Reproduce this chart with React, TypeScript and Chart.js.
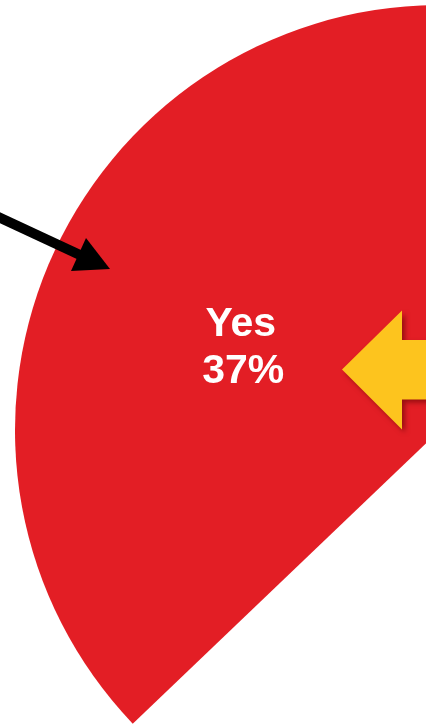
import React, { useEffect, useRef } from "react";
import { Chart, registerables } from "chart.js";

Chart.register(...registerables);

const categories = ["No", "Yes"];
const values = [63, 37];
const sliceColors = ["#FFFFFF", "#E31E25"];
const shownLabels = [false, true];

export default function App() {
  const ref = useRef<HTMLCanvasElement | null>(null);

  useEffect(() => {
    const canvas = ref.current;
    if (!canvas) return;

    const annotate = {
      id: "annotate",
      afterDraw(chart: any) {
        const ctx = chart.ctx;
        const meta = chart.getDatasetMeta(0);
        const total = values.reduce((a, b) => a + b, 0);
        // slice labels
        ctx.save();
        ctx.fillStyle = "#FFFFFF";
        ctx.font = "bold 41px 'Liberation Sans', Arial, sans-serif";
        ctx.textAlign = "center";
        ctx.textBaseline = "alphabetic";
        meta.data.forEach((arc: any, i: number) => {
          if (!shownLabels[i]) return;
          const p = arc.tooltipPosition();
          const pct = Math.round((values[i] / total) * 100) + "%";
          ctx.fillText(categories[i], p.x - 3.5, p.y - 11);
          ctx.fillText(pct, p.x - 1, p.y + 36);
        });
        ctx.restore();

        // black arrow
        ctx.save();
        ctx.strokeStyle = "#000";
        ctx.fillStyle = "#000";
        ctx.lineWidth = 10;
        ctx.beginPath();
        ctx.moveTo(-10, 213);
        ctx.lineTo(80, 255);
        ctx.stroke();
        ctx.beginPath();
        ctx.moveTo(86, 238);
        ctx.lineTo(110, 269);
        ctx.lineTo(71, 271);
        ctx.closePath();
        ctx.fill();
        ctx.restore();

        // yellow block arrow
        ctx.save();
        ctx.shadowColor = "rgba(90,0,0,0.55)";
        ctx.shadowBlur = 5;
        ctx.shadowOffsetX = 3;
        ctx.shadowOffsetY = 3;
        ctx.fillStyle = "#FDC41E";
        ctx.beginPath();
        ctx.moveTo(342, 369.5);
        ctx.lineTo(402, 310.5);
        ctx.lineTo(402, 340);
        ctx.lineTo(460, 340);
        ctx.lineTo(460, 399.5);
        ctx.lineTo(402, 399.5);
        ctx.lineTo(402, 429.5);
        ctx.closePath();
        ctx.fill();
        ctx.restore();
      },
    };

    const chart = new Chart(canvas, {
      type: "pie",
      data: {
        labels: categories,
        datasets: [
          {
            data: values,
            backgroundColor: sliceColors,
            borderWidth: 0,
          },
        ],
      },
      options: {
        responsive: false,
        animation: false,
        rotation: -0.5,
        radius: 425,
        layout: { padding: 0 },
        plugins: {
          legend: { display: false },
          tooltip: { enabled: false },
        },
        events: [],
      },
      plugins: [annotate],
    });
    return () => chart.destroy();
  }, []);

  return (
    <div
      style={{
        position: "fixed",
        left: 0,
        top: 0,
        width: 426,
        height: 725,
        overflow: "hidden",
        background: "#FFFFFF",
      }}
    >
      <canvas
        ref={ref}
        width={880}
        height={860}
        style={{ display: "block", width: 880, height: 860 }}
      />
    </div>
  );
}
